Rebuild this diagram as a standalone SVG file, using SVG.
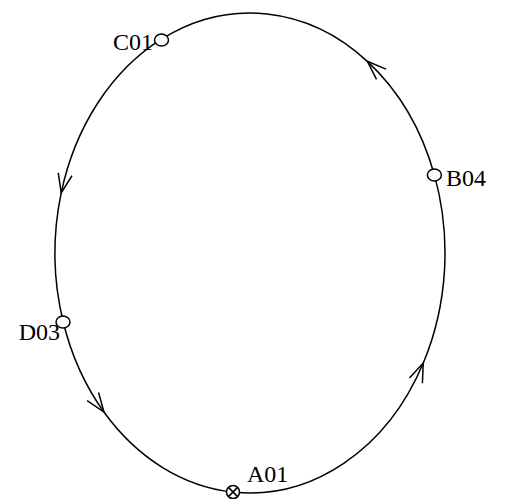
<svg xmlns="http://www.w3.org/2000/svg" width="505" height="499" viewBox="0 0 505 499">
<style>
.edge{fill:none;stroke:#000;stroke-width:1.5;marker-mid:url(#arr)}
.node{fill:#fff;stroke:#000;stroke-width:1.5}
.lbl{font-family:"Liberation Serif","Times New Roman",serif;font-size:24px;fill:#000}
</style>
<defs>
<marker id="arr" markerUnits="userSpaceOnUse" markerWidth="24" markerHeight="20" viewBox="-20 -10 24 20" refX="0" refY="0" orient="auto" overflow="visible">
<path d="M-19,-7 L0,0 L-19,7" fill="none" stroke="#000" stroke-width="1.5"/>
</marker>
</defs>
<rect width="505" height="499" fill="#fff"/>
<g id="connectors">
<path class="edge" d="M233,492.1 A195,240 0 0 0 423.28,363.08 A195,240 0 0 0 434.38,174.86"/>
<path class="edge" d="M434.38,174.86 A195,240 0 0 0 367.35,61.33 A195,240 0 0 0 161.47,39.16"/>
<path class="edge" d="M161.47,39.16 A195,240 0 0 0 61.21,192.91 A195,240 0 0 0 63.22,321.97"/>
<path class="edge" d="M63.22,321.97 A195,240 0 0 0 103.95,412.03 A195,240 0 0 0 233,492.1"/>
</g>
<g id="C01">
<ellipse class="node" cx="161.5" cy="40" rx="7" ry="6"/>
<text class="lbl" x="153" y="50" text-anchor="end">C01</text>
</g>
<g id="B04">
<ellipse class="node" cx="434.4" cy="175" rx="7" ry="6"/>
<text class="lbl" x="446" y="186">B04</text>
</g>
<g id="D03">
<ellipse class="node" cx="63" cy="322" rx="7" ry="6"/>
<text class="lbl" x="60" y="340" text-anchor="end">D03</text>
</g>
<g id="A01">
<circle class="node" cx="233" cy="492" r="6.5"/>
<path d="M228.4,487.4 L237.6,496.6 M237.6,487.4 L228.4,496.6" stroke="#000" stroke-width="1.5"/>
<text class="lbl" x="247" y="482">A01</text>
</g>
</svg>
